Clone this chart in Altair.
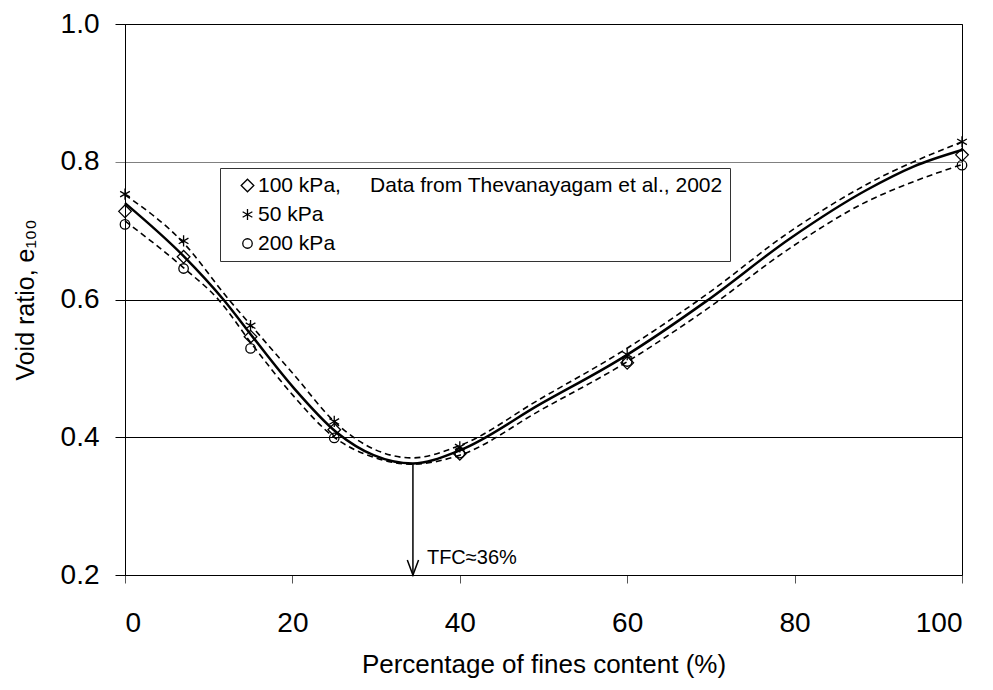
import altair as alt
import pandas as pd

# ---- measured points (Thevanayagam et al., 2002) ----
fines = [0, 7, 15, 25, 40, 60, 100]
e_100kPa = [0.728, 0.662, 0.546, 0.411, 0.376, 0.508, 0.810]
e_50kPa = [0.753, 0.685, 0.562, 0.423, 0.386, 0.520, 0.829]
e_200kPa = [0.709, 0.645, 0.529, 0.399, 0.377, 0.510, 0.795]

# ---- fitted curves ----
fit_x_100 = [0, 7, 11.75, 15.3, 20.1, 25.3, 29.7, 34.4, 40, 49.6, 59.5, 69.5, 79.5, 88.6, 94.2, 100]
fit_e_100 = [0.740, 0.663, 0.600, 0.545, 0.4725, 0.407, 0.374, 0.362, 0.381, 0.448, 0.516, 0.598, 0.689, 0.759, 0.793, 0.817]
fit_x_50 = [0, 7, 12.4, 15.3, 20.1, 25.3, 29.7, 34.3, 40, 49.6, 59.5, 69.5, 79.5, 88.6, 100]
fit_e_50 = [0.752, 0.682, 0.600, 0.559, 0.492, 0.4195, 0.383, 0.370, 0.388, 0.4556, 0.5255, 0.6075, 0.699, 0.767, 0.829]
fit_x_200 = [0, 7, 11.15, 15.3, 20.1, 25.0, 29.7, 34.3, 40, 49.6, 59.5, 69.5, 79.5, 88.6, 94.2, 100]
fit_e_200 = [0.714, 0.646, 0.600, 0.533, 0.4604, 0.400, 0.371, 0.361, 0.374, 0.439, 0.506, 0.586, 0.675, 0.742, 0.771, 0.796]

# ---- annotation ----
tfc_x = 34.4
tfc_e = 0.362
tfc_label = "TFC\u224836%"

NB = "\u00a0"
lab100 = "100 kPa," + NB * 5 + "Data from Thevanayagam et al., 2002"
lab50 = "50 kPa"
lab200 = "200 kPa"
series_order = [lab100, lab50, lab200]

FONT = "Liberation Sans"
STAR = "M0,-1L0,1M-0.87,-0.5L0.87,0.5M-0.87,0.5L0.87,-0.5"
CHEVRON = "M-0.75,-2L0,0L0.75,-2"

pts = pd.concat([
    pd.DataFrame({"x": fines, "e": e_100kPa, "s": lab100}),
    pd.DataFrame({"x": fines, "e": e_50kPa, "s": lab50}),
    pd.DataFrame({"x": fines, "e": e_200kPa, "s": lab200}),
])
solid = pd.DataFrame({"x": fit_x_100, "e": fit_e_100})
dashed = pd.concat([
    pd.DataFrame({"x": fit_x_50, "e": fit_e_50, "s": "50"}),
    pd.DataFrame({"x": fit_x_200, "e": fit_e_200, "s": "200"}),
])
arrow = pd.DataFrame({"x": [tfc_x], "e": [tfc_e], "e2": [0.2]})
tip = pd.DataFrame({"x": [tfc_x], "e": [0.2], "t": [tfc_label]})

W, H = 837, 551

x_enc = alt.X(
    "x:Q",
    scale=alt.Scale(domain=[0, 100], nice=False),
    axis=alt.Axis(
        values=[0, 20, 40, 60, 80, 100], format="d",
        title="Percentage of fines content (%)",
        grid=False, tickSize=8, tickColor="#555", domainColor="black",
        labelFontSize=28, labelPadding=26, labelColor="black", labelFont=FONT,
        titleFontSize=26, titleFontWeight="normal", titleFont=FONT, titleColor="black",
        titleX=W / 2, titleY=97, titleBaseline="alphabetic", titleAlign="center",
    ),
)
y_enc = alt.Y(
    "e:Q",
    scale=alt.Scale(domain=[0.2, 1.0], nice=False),
    axis=alt.Axis(
        values=[0.2, 0.4, 0.6, 0.8, 1.0], format=".1f",
        title="Void ratio, e\u2081\u2080\u2080",
        grid=True, gridOpacity=1, gridWidth=1,
        gridColor={"condition": {"test": "abs(datum.value - 0.8) < 0.001", "value": "#808080"}, "value": "black"},
        tickColor={"condition": {"test": "abs(datum.value - 0.8) < 0.001", "value": "#808080"}, "value": "black"},
        tickSize=10, domainColor="black",
        labelFontSize=28, labelPadding=16, labelColor="black", labelFont=FONT,
        titleFontSize=25, titleFontWeight="normal", titleFont=FONT, titleColor="black",
        titleAngle=-90, titleX=-92, titleY=H / 2, titleBaseline="alphabetic", titleAlign="center",
    ),
)

leg = alt.Legend(
    title=None, orient="none", legendX=95, legendY=144,
    labelFontSize=21, labelFont=FONT, labelColor="black", labelLimit=1000,
    padding=7, rowPadding=7, symbolOffset=10, labelOffset=0,
    strokeColor="#333", fillColor="white",
    symbolStrokeColor="black", symbolStrokeWidth=1.3,
)

points = alt.Chart(pts).mark_point(filled=False, strokeWidth=1.3, color="black", opacity=1).encode(
    x=x_enc, y=y_enc,
    shape=alt.Shape("s:N", scale=alt.Scale(domain=series_order, range=["diamond", STAR, "circle"]),
                    legend=leg),
    size=alt.Size("s:N", scale=alt.Scale(domain=series_order, range=[160, 90, 64]), legend=leg),
)

solid_line = alt.Chart(solid).mark_line(color="black", strokeWidth=2.5, interpolate="monotone").encode(
    x=x_enc, y=y_enc
)
dashed_line = alt.Chart(dashed).mark_line(color="black", strokeWidth=1.6, strokeDash=[6, 4],
                                          interpolate="monotone").encode(
    x=x_enc, y=y_enc, detail="s:N"
)
arrow_line = alt.Chart(arrow).mark_rule(color="black", strokeWidth=1.5).encode(
    x=x_enc, y=y_enc, y2="e2:Q"
)
arrow_head = alt.Chart(tip).mark_point(shape=CHEVRON, size=225, filled=False, color="black",
                                       strokeWidth=1.5, opacity=1).encode(x=x_enc, y=y_enc)
tfc_text = alt.Chart(tip).mark_text(align="left", baseline="middle", dx=14, dy=-17,
                                    fontSize=20, font=FONT, color="black").encode(
    x=x_enc, y=y_enc, text="t:N"
)

chart = alt.layer(dashed_line, solid_line, arrow_line, arrow_head, tfc_text, points).properties(
    width=W, height=H,
    autosize=alt.AutoSizeParams(type="none"),
    padding={"left": 117, "top": 16, "right": 20, "bottom": 118},
    background="white",
).configure_view(stroke="black", strokeWidth=1)

chart.save("out.html", embed_options={"renderer": "svg", "actions": False})
